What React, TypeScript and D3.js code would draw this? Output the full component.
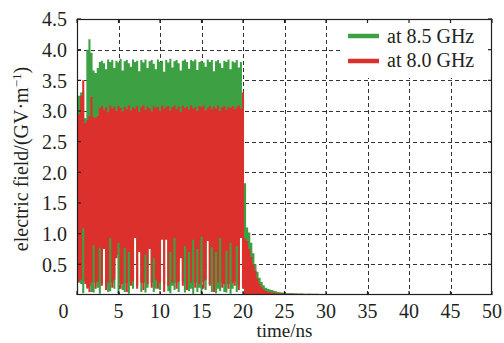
import React from 'react';
import * as d3 from 'd3';

// sampling interval (ns) of the envelope arrays below
const STEP_NS = 0.25;

const timeTicks = [0, 5, 10, 15, 20, 25, 30, 35, 40, 45, 50];
const fieldTicks = [0.5, 1.0, 1.5, 2.0, 2.5, 3.0, 3.5, 4.0, 4.5];
const seriesNames = ['at 8.5 GHz', 'at 8.0 GHz'];

// 8.5 GHz: per-sample maxima (GV/m), t = 0 … 30 ns
const green85Max = [
  3.20, 3.25, 3.30, 3.32, 2.88, 4.00, 4.17, 3.95, 3.66, 3.62, 3.70, 3.80,
  3.82, 3.78, 3.68, 3.84, 3.80, 3.83, 3.70, 3.82,
  3.79, 3.85, 3.66, 3.81, 3.83, 3.78, 3.72, 3.84,
  3.80, 3.82, 3.65, 3.83, 3.79, 3.84, 3.70, 3.81,
  3.83, 3.77, 3.68, 3.84, 3.80, 3.82, 3.64, 3.83,
  3.79, 3.85, 3.71, 3.81, 3.83, 3.78, 3.66, 3.82,
  3.84, 3.80, 3.69, 3.83, 3.81, 3.84, 3.67, 3.80,
  3.82, 3.79, 3.72, 3.84, 3.80, 3.83, 3.65, 3.81,
  3.83, 3.78, 3.70, 3.82, 3.80, 3.84, 3.68, 3.81,
  3.79, 3.83, 3.71, 3.80,
  1.82, 1.82, 1.10, 1.02, 0.85, 0.68, 0.50, 0.38,
  0.28, 0.21, 0.16, 0.12, 0.10, 0.09, 0.08, 0.07,
  0.06, 0.05, 0.045, 0.04, 0.035, 0.03, 0.03, 0.03,
  0.03, 0.025, 0.025, 0.025, 0.025, 0.02, 0.02, 0.02,
  0.02, 0.02, 0.02, 0.02, 0.02, 0.015, 0.015, 0.015,
  0.015,
];

// 8.5 GHz: per-sample minima (GV/m), t = 0 … 20 ns (0 afterwards)
const green85Min = [
  0.00, 0.20, 0.18, 0.03, 0.22, 0.10, 0.15, 0.05, 0.04, 0.20,
  0.12, 0.02, 0.20, 0.80, 0.15, 0.05, 0.06, 0.20, 0.10, 0.65,
  0.03, 0.18, 0.08, 0.05, 0.20, 0.02, 0.22, 0.10, 0.95, 0.15,
  0.75, 0.05, 0.20, 0.04, 0.12, 0.80, 0.20, 0.05, 0.10, 0.22,
  0.08, 0.92, 0.18, 0.95, 0.06, 0.03, 0.15, 0.08, 0.20, 0.05,
  0.65, 0.22, 0.04, 0.18, 0.06, 0.10, 0.02, 0.20, 0.05, 0.12,
  0.03, 0.22, 0.08, 0.92, 0.18, 0.05, 0.20, 0.03, 0.10, 0.06,
  0.20, 0.05, 0.04, 0.18, 0.02, 0.10, 0.22, 0.05, 0.15, 0.95,
  0.10,
];

// 8.0 GHz: per-sample maxima (GV/m), t = 0 … 30 ns
const red80Max = [
  2.75, 2.95, 3.25, 3.50, 2.80, 2.85, 2.92, 3.23, 2.90, 2.88, 2.92, 3.05,
  3.08, 3.02, 3.06, 2.98, 3.09, 3.04, 3.07, 3.00,
  3.08, 3.05, 2.99, 3.07, 3.03, 3.09, 3.01, 3.06,
  3.04, 3.08, 2.98, 3.06, 3.09, 3.02, 3.07, 3.04,
  2.99, 3.08, 3.05, 3.07, 3.00, 3.09, 3.04, 3.06,
  3.08, 3.01, 3.06, 3.09, 3.03, 3.07, 2.98, 3.08,
  3.05, 3.07, 3.02, 3.09, 3.04, 3.06, 3.00, 3.08,
  3.06, 3.09, 3.01, 3.05, 3.08, 3.03, 3.07, 3.04,
  3.09, 3.00, 3.06, 3.08, 3.02, 3.07, 3.05, 3.08,
  3.03, 3.06, 3.09, 3.04,
  3.30, 0.92, 0.88, 0.75, 0.62, 0.50, 0.40, 0.27,
  0.18, 0.13, 0.09, 0.07, 0.05, 0.045, 0.04, 0.035,
  0.03, 0.03, 0.025, 0.025, 0.025, 0.02, 0.02, 0.025,
  0.02, 0.02, 0.02, 0.015, 0.02, 0.02, 0.015, 0.015,
  0.02, 0.015, 0.015, 0.01, 0.015, 0.01, 0.01, 0.01,
  0.01,
];

// 8.0 GHz: per-sample minima (GV/m), t = 0 … 20 ns (0 afterwards)
const red80Min = [
  0.46, 0.22, 0.25, 1.09, 0.18, 0.12, 0.05, 0.20, 0.81, 0.10,
  0.22, 0.77, 0.15, 0.75, 0.08, 0.20, 0.93, 0.12, 0.25, 0.60,
  0.85, 0.10, 0.18, 0.77, 0.05, 0.70, 0.15, 0.22, 0.93, 0.10,
  0.70, 0.20, 0.08, 0.66, 0.18, 0.75, 0.12, 0.60, 0.25, 0.10,
  0.20, 0.90, 0.05, 0.90, 0.15, 0.70, 0.20, 0.93, 0.10, 0.22,
  0.60, 0.15, 0.80, 0.08, 0.70, 0.20, 0.90, 0.12, 0.75, 0.18,
  0.95, 0.10, 0.25, 0.88, 0.15, 0.78, 0.05, 0.70, 0.20, 0.93,
  0.12, 0.18, 0.72, 0.10, 0.85, 0.20, 0.15, 0.80, 0.08, 0.93,
  0.12,
];

// residual 8.0 GHz level after 30 ns
const tailTime = [30, 50];
const tailRed = [0.005, 0.005];

const GREEN = '#3da144';
const RED = '#dc302c';
const INK = '#231f20';
const FONT = '"Liberation Serif", "DejaVu Serif", serif';

export default function App() {
  const W = 504;
  const H = 343;
  const x = d3.scaleLinear().domain([0, 50]).range([77, 492]);
  const y = d3.scaleLinear().domain([0, 4.5]).range([295, 19]);
  const [x0, x1] = x.range();
  const [y0, y1] = y.range();

  const envelope = (hi: number[], lo: number[]) =>
    d3
      .area<number>()
      .x((_, i) => x(i * STEP_NS))
      .y0((_, i) => y(lo[i] ?? 0))
      .y1((d) => y(d))
      .curve(d3.curveStep)(hi) || '';

  const tailPath =
    d3
      .line<number>()
      .x((_, i) => x(tailTime[i]))
      .y((d) => y(d))(tailRed) || '';

  const gridX = timeTicks.filter((t) => t > 0 && t < 50);
  const gridY = fieldTicks.filter((v) => v < 4.5);

  return (
    <svg
      width={W}
      height={H}
      viewBox={`0 0 ${W} ${H}`}
      style={{ position: 'absolute', left: 0, top: 0, display: 'block', background: '#fff' }}
      fontFamily={FONT}
    >
      <defs>
        <clipPath id="plot">
          <rect x={x0} y={y1} width={x1 - x0} height={y0 - y1} />
        </clipPath>
      </defs>
      <rect x={0} y={0} width={W} height={H} fill="#fff" />
      {/* grid */}
      <g stroke="#333" strokeWidth={1} strokeDasharray="4,3">
        {gridX.map((t) => (
          <line key={'gx' + t} x1={Math.round(x(t)) + 0.5} x2={Math.round(x(t)) + 0.5} y1={y1} y2={y0} />
        ))}
        {gridY.map((v) => (
          <line key={'gy' + v} x1={x0} x2={x1} y1={Math.round(y(v)) + 0.5} y2={Math.round(y(v)) + 0.5} />
        ))}
      </g>
      {/* data */}
      <g clipPath="url(#plot)">
        <path d={envelope(green85Max, green85Min)} fill={GREEN} />
        <path d={envelope(red80Max, red80Min)} fill={RED} />
        <path d={tailPath} fill="none" stroke={RED} strokeWidth={1.5} />
      </g>
      {/* legend */}
      <rect x={342} y={20} width={149} height={58} fill="#fff" />
      {seriesNames.map((name, i) => (
        <g key={name}>
          <line x1={348} x2={379} y1={36 + i * 25} y2={36 + i * 25} stroke={i === 0 ? GREEN : RED} strokeWidth={4.5} />
          <text x={387} y={42.5 + i * 24.5} fontSize={20} fill={INK}>
            {name}
          </text>
        </g>
      ))}
      {/* frame */}
      <rect x={x0 + 0.5} y={y1 + 0.5} width={x1 - x0 - 1} height={y0 - y1 - 1} fill="none" stroke={INK} strokeWidth={1.2} />
      {/* ticks */}
      <g stroke={INK} strokeWidth={1.2}>
        {fieldTicks.map((v) => (
          <g key={'ty' + v}>
            <line x1={x0} x2={x0 + 4} y1={y(v)} y2={y(v)} />
            <line x1={x1} x2={x1 - 4} y1={y(v)} y2={y(v)} />
          </g>
        ))}
        {timeTicks.map((t) => (
          <g key={'tx' + t}>
            <line x1={x(t)} x2={x(t)} y1={y0} y2={y0 - 4} />
            <line x1={x(t)} x2={x(t)} y1={y1} y2={y1 + 4} />
          </g>
        ))}
      </g>
      {/* tick labels */}
      <g fontSize={20} fill={INK}>
        {fieldTicks.map((v) => (
          <text key={'ly' + v} x={x0 - 10} y={y(v)} dy="0.36em" textAnchor="end">
            {v.toFixed(1)}
          </text>
        ))}
        {timeTicks.map((t) => (
          <text key={'lx' + t} x={x(t) - (t === 0 ? 13.5 : 0)} y={318} textAnchor="middle">
            {t}
          </text>
        ))}
      </g>
      {/* axis titles */}
      <text x={(x0 + x1) / 2} y={337} fontSize={19} fill={INK} textAnchor="middle">
        time/ns
      </text>
      <text transform="translate(28,159) rotate(-90)" fontSize={20} fill={INK} textAnchor="middle">
        electric field/(GV·m
        <tspan dy={-7} fontSize={13}>
          −1
        </tspan>
        <tspan dy={7}>)</tspan>
      </text>
    </svg>
  );
}
